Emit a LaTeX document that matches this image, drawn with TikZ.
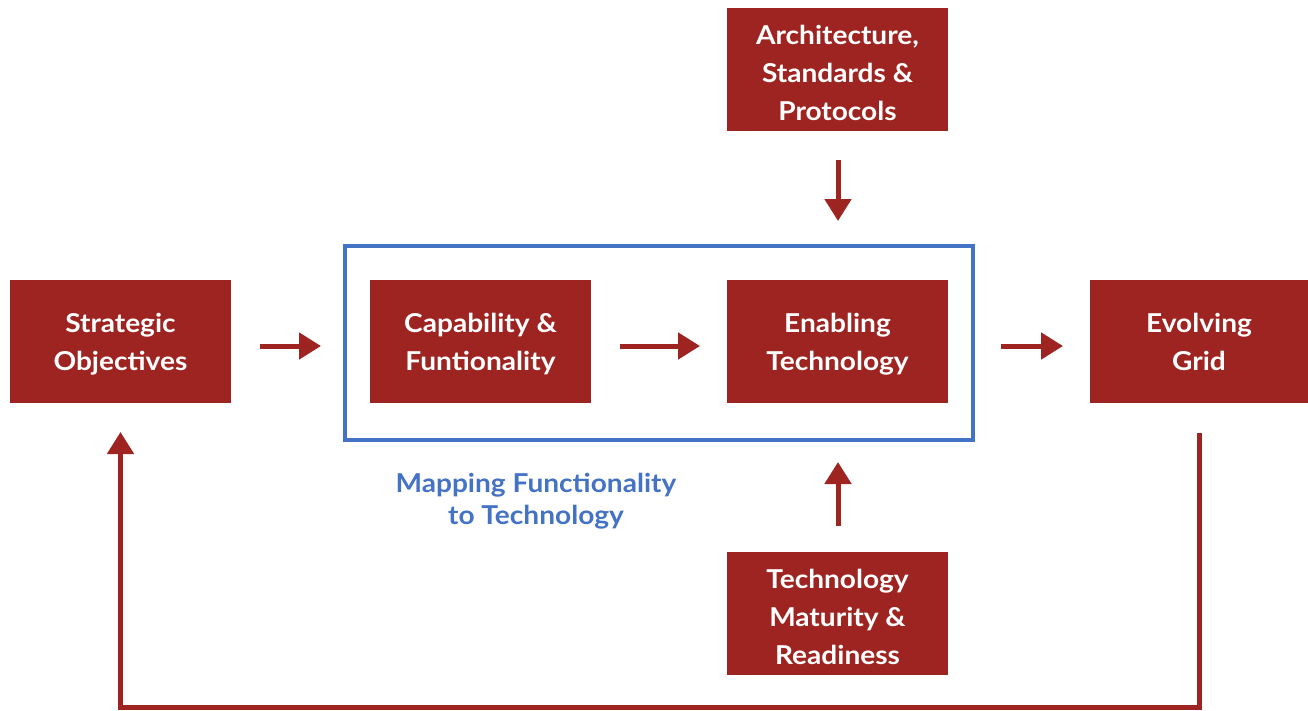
\documentclass[tikz,border=0pt]{standalone}
\usepackage{fontspec}
\setmainfont{Lato}[FakeStretch=1.08]
\usetikzlibrary{arrows.meta}
\definecolor{boxred}{HTML}{9E2421}
\definecolor{mapblue}{HTML}{4472C4}
\begin{document}
\begin{tikzpicture}[x=1pt,y=-1pt,
  redbox/.style={fill=boxred, draw=none, minimum width=221pt, minimum height=123pt,
    text=white, align=center, font=\fontsize{26}{38}\selectfont\bfseries, inner sep=0pt},
  lowtext/.style={yshift=-3pt},
  flow/.style={draw=boxred, line width=5pt, -{Triangle[width=26pt,length=22pt]}},
  loopline/.style={draw=boxred, line width=5pt}
]
\useasboundingbox (0,0) rectangle (1308,710);
% blue frame around the mapping stage
\node[draw=mapblue, line width=4pt, minimum width=628pt, minimum height=194pt, inner sep=0pt] (frame) at (659,343) {};
\node[text=mapblue, align=center, font=\fontsize{26}{32}\selectfont\bfseries] (maplbl) at (536,501) {Mapping Functionality\\to Technology};

% main boxes (filled background drawn separately so the text can sit slightly lower)
\foreach \nm/\cx/\cy/\w in {so/120.5/341.5/221, cf/480.5/341.5/221, et/837.5/341.5/221,
                           eg/1199/341.5/218, asp/837.5/69.5/221, tmr/837.5/613.5/221}
  \node[fill=boxred, minimum width=\w pt, minimum height=123pt, inner sep=0pt] (\nm) at (\cx,\cy) {};
\node[redbox, fill=none, lowtext] (sot) at (so) {Strategic\\Objectives};
\node[redbox, fill=none, lowtext] (cft) at (cf) {Capability \&\\Funtionality};
\node[redbox, fill=none, lowtext] (ett) at (et) {Enabling\\Technology};
\node[redbox, fill=none] (egt) at (eg) {Evolving\\Grid};
\node[redbox, fill=none, lowtext] (aspt) at (asp) {Architecture,\\Standards \&\\Protocols};
\node[redbox, fill=none, lowtext] (tmrt) at (tmr) {Technology\\Maturity \&\\Readiness};

% short arrows between stages
\coordinate (a1s) at (260,346); \coordinate (a1e) at (321,346);
\coordinate (a2s) at (620,346); \coordinate (a2e) at (700,346);
\coordinate (a3s) at (1001,346); \coordinate (a3e) at (1063,346);
\coordinate (a4s) at (838,160); \coordinate (a4e) at (838,221);
\coordinate (a5s) at (838,526); \coordinate (a5e) at (838,462);
\draw[flow] (a1s) -- (a1e);
\draw[flow] (a2s) -- (a2e);
\draw[flow] (a3s) -- (a3e);
\draw[flow] (a4s) -- (a4e);
\draw[flow] (a5s) -- (a5e);

% feedback loop from the grid back to objectives
\coordinate (fbs) at (1199.5,433);
\coordinate (fbe) at (120.5,432);
\draw[loopline] (fbs) -- (1199.5,707.5) -- (120.5,707.5) -- (120.5,450);
\draw[flow] (120.5,460) -- (fbe);
\end{tikzpicture}
\end{document}
